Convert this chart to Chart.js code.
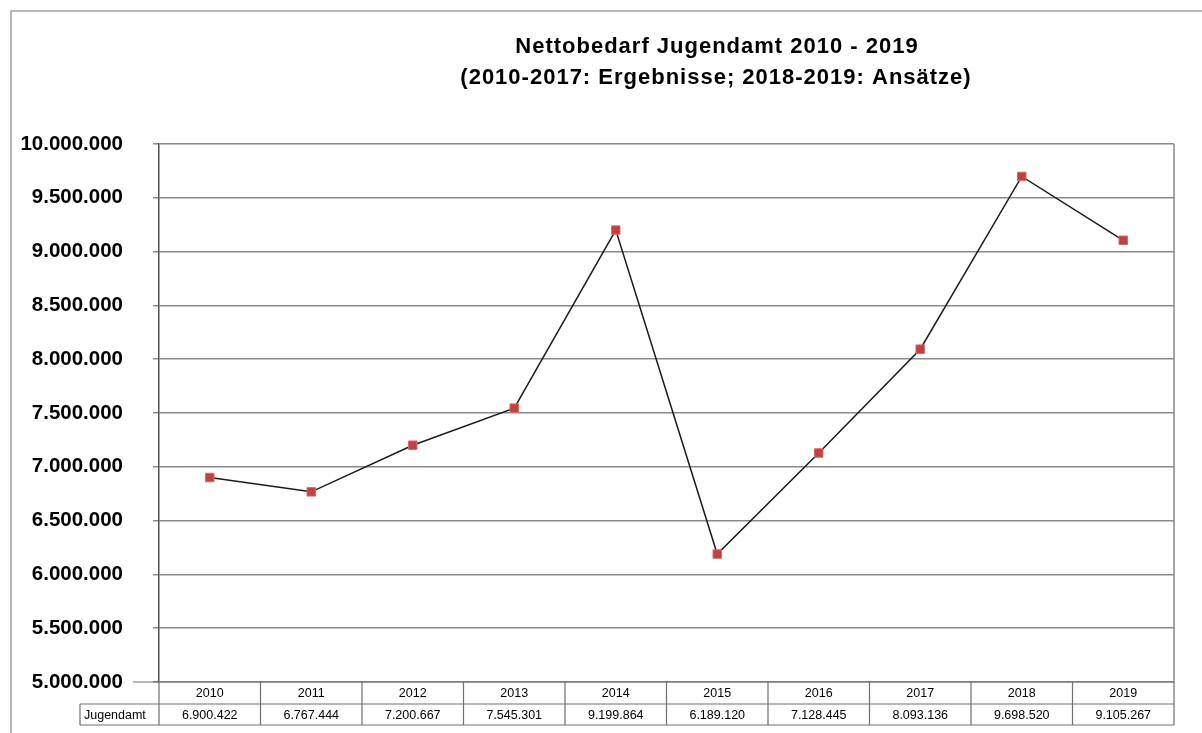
<!DOCTYPE html>
<html>
<head>
<meta charset="utf-8">
<script src="https://cdn.jsdelivr.net/npm/chart.js@4/dist/chart.umd.min.js"></script>
<style>
  html, body { margin: 0; padding: 0; background: #fff; }
  canvas { display: block; }
</style>
</head>
<body>
<canvas id="chart" width="1202" height="733"></canvas>
<script>
// --- DONNÉES ---
const years = ['2010', '2011', '2012', '2013', '2014', '2015', '2016', '2017', '2018', '2019'];
const jugendamt = [6900422, 6767444, 7200667, 7545301, 9199864, 6189120, 7128445, 8093136, 9698520, 9105267];
const seriesLabel = 'Jugendamt';
const titleLines = ['Nettobedarf Jugendamt 2010 - 2019', '(2010-2017: Ergebnisse; 2018-2019: Ansätze)'];
const yMin = 5000000, yMax = 10000000, yStep = 500000;

// format 1234567 -> 1.234.567
function fmt(n) {
    return String(Math.round(n)).replace(/\B(?=(\d{3})+(?!\d))/g, '.');
}

const FONT = 'Arial, "Liberation Sans", sans-serif';

// titre, cadre, tableau de données
const decorPlugin = {
    id: 'decor',
    beforeDraw(chart) {
        const ctx = chart.ctx;
        ctx.save();
        ctx.fillStyle = '#fff';
        ctx.fillRect(0, 0, chart.width, chart.height);
        // cadre extérieur
        ctx.strokeStyle = '#a0a0a0';
        ctx.lineWidth = 1.5;
        ctx.strokeRect(11, 11, chart.width + 20, chart.height + 20);
        ctx.restore();
    },
    afterDraw(chart) {
        const ctx = chart.ctx;
        const area = chart.chartArea;
        ctx.save();

        // titre
        ctx.fillStyle = '#000';
        ctx.font = 'bold 22px ' + FONT;
        ctx.letterSpacing = '1px';
        ctx.textAlign = 'center';
        ctx.textBaseline = 'middle';
        ctx.fillText(titleLines[0], 717, 47);
        ctx.fillText(titleLines[1], 716, 78);
        ctx.letterSpacing = '0px';

        // bord droit de la zone de tracé
        ctx.strokeStyle = '#8a8a8a';
        ctx.lineWidth = 1.5;
        ctx.beginPath();
        ctx.moveTo(area.right, area.top);
        ctx.lineTo(area.right, area.bottom);
        ctx.stroke();

        // tableau
        const n = years.length;
        const colW = (area.right - area.left) / n;
        const top = area.bottom, mid = top + 22, bot = mid + 21;
        ctx.strokeStyle = '#707070';
        ctx.lineWidth = 1.2;
        ctx.beginPath();
        ctx.moveTo(133, top); ctx.lineTo(area.right, top);
        ctx.moveTo(80, mid); ctx.lineTo(area.right, mid);
        ctx.moveTo(80, bot); ctx.lineTo(area.right, bot);
        ctx.moveTo(80, mid); ctx.lineTo(80, bot);
        for (let i = 0; i <= n; i++) {
            const x = area.left + i * colW;
            ctx.moveTo(x, top); ctx.lineTo(x, bot);
        }
        ctx.stroke();

        ctx.fillStyle = '#000';
        ctx.font = '12.5px ' + FONT;
        ctx.textAlign = 'center';
        for (let i = 0; i < n; i++) {
            const cx = chart.scales.x.getPixelForValue(i);
            ctx.fillText(years[i], cx, (top + mid) / 2 + 1);
            ctx.fillText(fmt(jugendamt[i]), cx, (mid + bot) / 2 + 1);
        }
        ctx.textAlign = 'left';
        ctx.fillText(seriesLabel, 84, (mid + bot) / 2 + 1);
        ctx.restore();
    }
};

const chart = new Chart(document.getElementById('chart'), {
    type: 'line',
    data: {
        labels: years,
        datasets: [{
            label: seriesLabel,
            data: jugendamt,
            borderColor: '#1a1a1a',
            borderWidth: 1.5,
            tension: 0,
            pointStyle: 'rect',
            pointRadius: 6,
            pointHoverRadius: 6,
            pointBackgroundColor: '#c0413f',
            pointBorderColor: '#d86a68',
            pointBorderWidth: 1
        }]
    },
    options: {
        responsive: false,
        animation: false,
        layout: { padding: { left: 0, top: 144, right: 28, bottom: 51 } },
        plugins: {
            legend: { display: false },
            title: { display: false },
            tooltip: { enabled: false }
        },
        scales: {
            x: {
                display: false,
                offset: true
            },
            y: {
                min: yMin,
                max: yMax,
                afterFit(scale) { scale.width = 159; },
                border: { color: '#505050', width: 1.5 },
                grid: {
                    color: '#8a8a8a',
                    lineWidth: 1.5,
                    drawTicks: true,
                    tickLength: 6
                },
                ticks: {
                    stepSize: yStep,
                    padding: 30,
                    color: '#000',
                    font: { family: FONT, size: 20.5, weight: 'bold' },
                    callback: v => fmt(v)
                }
            }
        }
    },
    plugins: [decorPlugin]
});
</script>
</body>
</html>
